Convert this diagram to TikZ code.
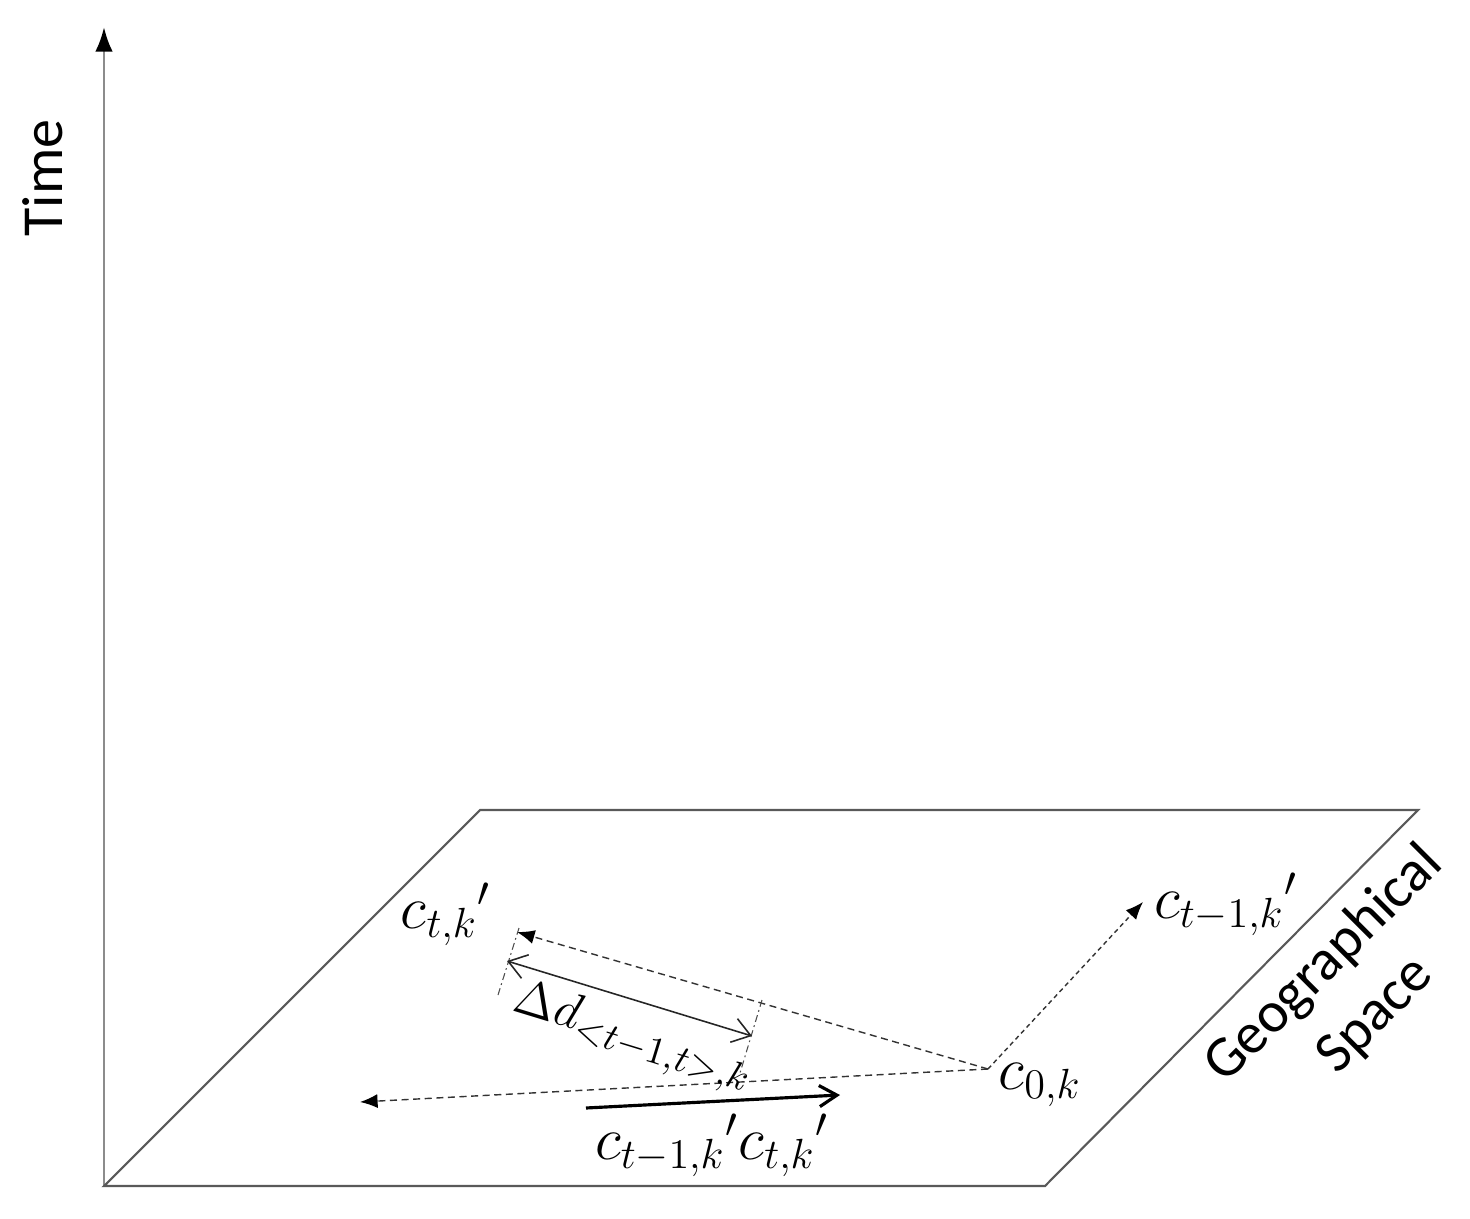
\documentclass[tikz,border=0pt]{standalone}
\usepackage{amsmath}
\usepackage{fontspec}
\setmainfont{Carlito}
\usepackage{xcolor}
\usetikzlibrary{arrows.meta, positioning, calc}

\tikzset{
  axisline/.style={line width=0.85pt, black!45, -{Latex[length=7pt,width=5pt,black]}},
  planeline/.style={line width=0.6pt, black!65},
  movearr/.style={line width=0.4pt, black!80, dash pattern=on 2pt off 1.3pt, -{Latex[length=5pt,width=4pt,black]}},
  finearr/.style={line width=0.4pt, black!80, dash pattern=on 1.3pt off 1pt, -{Latex[length=5pt,width=4pt,black]}},
  distarr/.style={line width=0.45pt, black!85, {Straight Barb[length=5pt,width=7pt]}-{Straight Barb[length=5pt,width=7pt]}},
  extline/.style={line width=0.3pt, black!70, dash pattern=on 2pt off 1pt on 0.5pt off 1pt},
  vecarr/.style={line width=0.9pt, black, -{Straight Barb[length=5pt,width=6pt]}},
  mlabel/.style={inner sep=0pt, font=\fontsize{18}{20}\selectfont},
  tlabel/.style={inner sep=0pt, font=\fontsize{16.5}{20.5}\selectfont, align=center}
}

\begin{document}
\begin{tikzpicture}[x=0.01cm,y=-0.01cm]
\useasboundingbox (0,0) rectangle (1470,1219);

% ------------------------
% Axes and plane
% ------------------------
\coordinate (orig) at (104,1186);
\coordinate (tip) at (104,27);
\coordinate (br) at (1045,1186);
\coordinate (tr) at (1418,810);
\coordinate (tl) at (480,810);

\draw[axisline] (orig) -- (tip);
\draw[planeline] (orig) -- (br) -- (tr) -- (tl) -- cycle;

\node[tlabel, rotate=90] (time) at (43,178) {Time};
\node[tlabel, rotate=45] (geo) at (1350,990) {Geographical\\Space};

% ------------------------
% Movements from c_{0,k}
% ------------------------
\coordinate (c0) at (988,1069);
\coordinate (ctk) at (517,932);
\coordinate (ct1k) at (1143,902);
\coordinate (far) at (360,1102);

\draw[movearr] (c0) -- (ctk);
\draw[finearr] (c0) -- (ct1k);
\draw[movearr] (c0) -- (far);

\node[mlabel] (lab0) at (1040,1085) {$c_{0,k}$};
\node[mlabel] (labt) at (446,914) {${c_{t,k}}'$};
\node[mlabel] (labt1) at (1226,904) {${c_{t-1,k}}'$};

% ------------------------
% Distance between the two
% ------------------------
\coordinate (da) at (507,961);
\coordinate (db) at (752,1036);
\coordinate (ea1) at (498,995);
\coordinate (ea2) at (519,928);
\coordinate (eb1) at (762,1000);
\coordinate (eb2) at (740,1073);

\draw[extline] (ea1) -- (ea2);
\draw[extline] (eb1) -- (eb2);
\draw[distarr] (da) -- (db);
\node[mlabel, font=\fontsize{15.5}{18}\selectfont, rotate=-17] (dlab) at (633,1038) {$\Delta d_{<t-1,t>,k}$};

% ------------------------
% Vector c_{t-1,k}' c_{t,k}'
% ------------------------
\coordinate (va) at (586,1108);
\coordinate (vb) at (840,1095);
\draw[vecarr] (va) -- (vb);
\node[mlabel] (vlab) at (712,1145) {${c_{t-1,k}}'{c_{t,k}}'$};

\end{tikzpicture}
\end{document}
